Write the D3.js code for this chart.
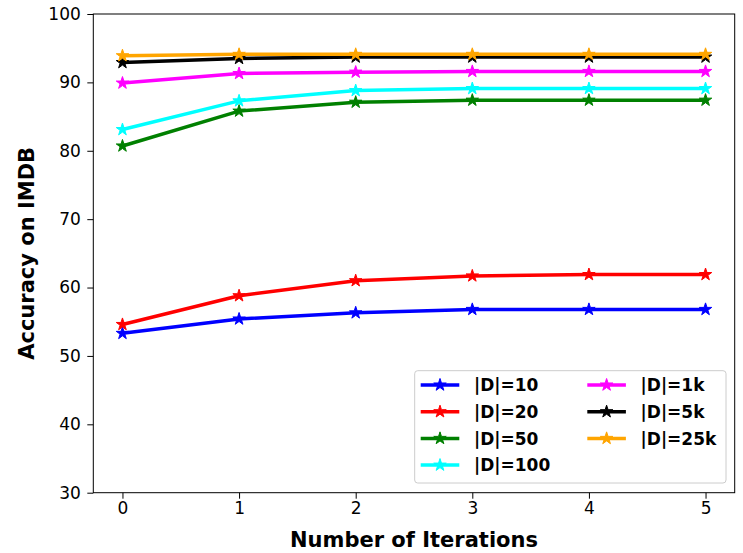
<!DOCTYPE html>
<html>
<head>
<meta charset="utf-8">
<script src="https://cdn.jsdelivr.net/npm/d3@7"></script>
<style>
  body { margin: 0; background: #fff; }
  svg { font-family: "DejaVu Sans", sans-serif; }
</style>
</head>
<body>
<div id="chart"></div>
<script>
// iterations on the x axis
var iterations = [0, 1, 2, 3, 4, 5]
var seriesNames = ['|D|=10', '|D|=20', '|D|=50', '|D|=100', '|D|=1k', '|D|=5k', '|D|=25k']
var seriesColors = ['#0000ff', '#ff0000', '#008000', '#00ffff', '#ff00ff', '#000000', '#ffa500']
var acc10 = [53.3, 55.4, 56.3, 56.8, 56.8, 56.8]
var acc20 = [54.6, 58.8, 61.0, 61.7, 61.9, 61.9]
var acc50 = [80.7, 85.8, 87.1, 87.4, 87.4, 87.4]
var acc100 = [83.1, 87.3, 88.8, 89.1, 89.1, 89.1]
var acc1k = [89.9, 91.3, 91.5, 91.6, 91.6, 91.6]
var acc5k = [92.9, 93.5, 93.7, 93.7, 93.7, 93.7]
var acc25k = [93.9, 94.1, 94.1, 94.1, 94.1, 94.1]
var yTicks = [30, 40, 50, 60, 70, 80, 90, 100]

var allSeries = [acc10, acc20, acc50, acc100, acc1k, acc5k, acc25k]

var W = 743, H = 553
var margin = {left: 93.3, right: 8.3, top: 14, bottom: 60.3}
var width = W - margin.left - margin.right
var height = H - margin.top - margin.bottom

var svg = d3.select('#chart').append('svg')
  .attr('width', W).attr('height', H)
var g = svg.append('g')
  .attr('transform', 'translate(' + margin.left + ',' + margin.top + ')')

var x = d3.scaleLinear().domain([-0.25, 5.25]).range([0, width])
var y = d3.scaleLinear().domain([30, 100]).range([height, 0])

// axes
var xAxis = d3.axisBottom(x).tickValues(iterations).tickFormat(d3.format('d'))
  .tickSize(6).tickPadding(3)
var yAxis = d3.axisLeft(y).tickValues(yTicks).tickSize(6).tickPadding(6.5)

g.append('g').attr('transform', 'translate(0,' + height + ')').call(xAxis)
  .call(s => s.select('.domain').remove())
g.append('g').call(yAxis).call(s => s.select('.domain').remove())
g.selectAll('.tick text').attr('font-size', 17).attr('fill', '#000')
  .attr('font-family', '"DejaVu Sans", sans-serif')
g.selectAll('.tick line').attr('stroke', '#000').attr('stroke-width', 1)

// frame
g.append('rect').attr('width', width).attr('height', height)
  .attr('fill', 'none').attr('stroke', '#000').attr('stroke-width', 1)

// lines
var line = d3.line().x((d, i) => x(iterations[i])).y(d => y(d))
var star = d3.symbol().type(d3.symbolStar).size(48)

allSeries.forEach(function(vals, k) {
  var col = seriesColors[k]
  g.append('path').datum(vals)
    .attr('d', line)
    .attr('fill', 'none').attr('stroke', col).attr('stroke-width', 3.5)
    .attr('stroke-linejoin', 'round')
  g.selectAll('.m' + k).data(vals).enter().append('path')
    .attr('transform', (d, i) => 'translate(' + x(iterations[i]) + ',' + y(d) + ')')
    .attr('d', star)
    .attr('fill', col).attr('stroke', col).attr('stroke-width', 1)
})

// axis labels
svg.append('text')
  .attr('x', margin.left + width / 2).attr('y', 546.7)
  .attr('text-anchor', 'middle')
  .attr('font-size', 21).attr('font-weight', 'bold')
  .text('Number of Iterations')
svg.append('text')
  .attr('transform', 'translate(34,' + (margin.top + height / 2) + ') rotate(-90)')
  .attr('text-anchor', 'middle')
  .attr('font-size', 21).attr('font-weight', 'bold')
  .text('Accuracy on IMDB')

// legend
var leg = svg.append('g')
leg.append('rect')
  .attr('x', 414.7).attr('y', 370.7).attr('width', 311.3).attr('height', 112.3)
  .attr('rx', 3).attr('fill', 'rgba(255,255,255,0.8)')
  .attr('stroke', '#cccccc').attr('stroke-width', 1)

seriesNames.forEach(function(name, k) {
  var col = k < 4 ? 0 : 1
  var row = k < 4 ? k : k - 4
  var lx = col === 0 ? 420.7 : 587.3
  var ly = 385 + row * 26.7
  leg.append('line')
    .attr('x1', lx).attr('x2', lx + 38.6).attr('y1', ly).attr('y2', ly)
    .attr('stroke', seriesColors[k]).attr('stroke-width', 3.5)
  leg.append('path')
    .attr('transform', 'translate(' + (lx + 19.3) + ',' + ly + ')')
    .attr('d', star)
    .attr('fill', seriesColors[k]).attr('stroke', seriesColors[k])
  leg.append('text')
    .attr('x', lx + 53.3).attr('y', ly).attr('dy', '0.36em')
    .attr('font-size', 17).attr('font-weight', 'bold')
    .text(name)
})
</script>
</body>
</html>
